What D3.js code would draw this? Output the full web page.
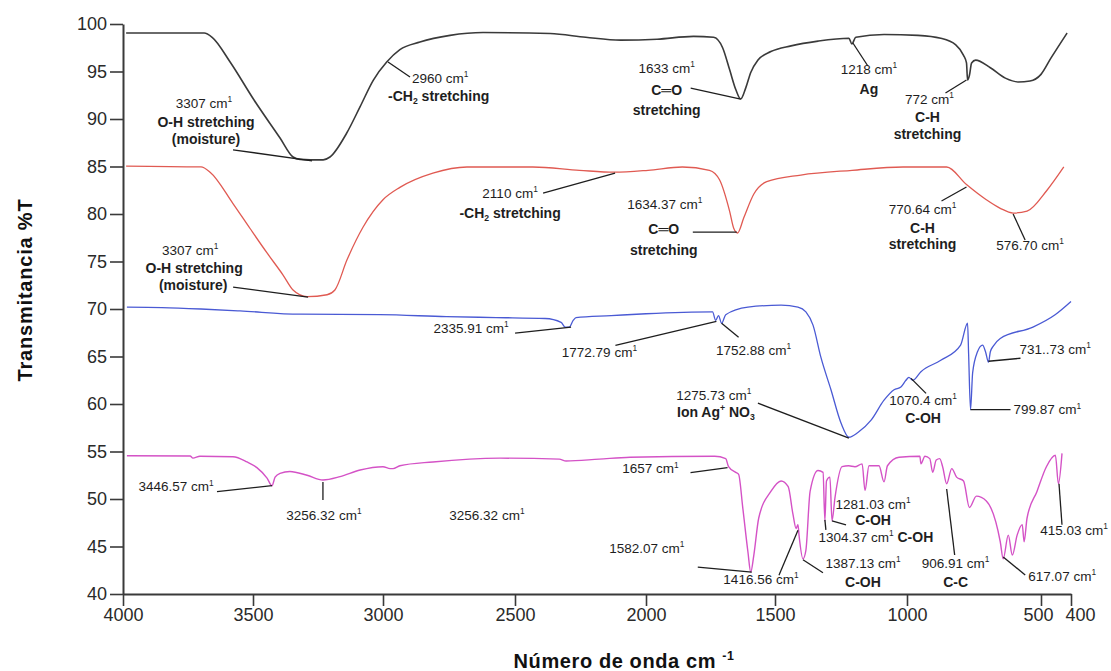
<!DOCTYPE html>
<html><head><meta charset="utf-8">
<script src="https://cdn.jsdelivr.net/npm/d3@7"></script>
<style>body{margin:0;background:#fff} svg{display:block;font-family:"Liberation Sans",Arial,sans-serif}</style>
</head><body><svg id="c" width="1111" height="671"></svg>
<script>
// ---------- data (wavenumber cm-1, %T) ----------
const xTickValues = [4000, 3500, 3000, 2500, 2000, 1500, 1000, 500, 400];
const yTickValues = [40, 45, 50, 55, 60, 65, 70, 75, 80, 85, 90, 95, 100];

const seriesBlack = [[3988,99.05],[3688,99.05],[3657,98.6],[3588,96.0],[3496,92.0],[3396,88.0],[3346,86.0],[3319,85.75],[3280,85.7],[3230,85.7],[3204,86.0],[3140,88.5],[3088,91.3],[3037,94.1],[2986,96.0],[2936,97.3],[2860,98.1],[2746,98.8],[2621,99.1],[2366,99.0],[2230,98.6],[2097,98.3],[1957,98.4],[1816,98.7],[1738,98.6],[1703,97.5],[1676,95.2],[1652,93.1],[1633,92.1],[1613,93.3],[1594,94.9],[1566,96.2],[1516,97.1],[1439,97.7],[1337,98.2],[1220,98.5],[1209,97.9],[1194,98.6],[1087,98.9],[959,98.8],[874,98.5],[818,97.8],[789,96.7],[778,95.9],[774,94.1],[767,94.6],[759,95.9],[744,96.2],[689,95.4],[633,94.3],[585,93.9],[541,94.0],[500,94.7],[467,96.4],[413,99.05]];

const seriesRed = [[3988,85.05],[3700,84.95],[3665,84.4],[3577,81.1],[3512,78.5],[3446,75.9],[3385,73.6],[3346,72.0],[3292,71.3],[3215,71.5],[3185,72.0],[3138,75.2],[3077,78.6],[3000,81.5],[2936,82.8],[2811,84.3],[2682,84.95],[2432,84.95],[2254,84.6],[2121,84.4],[1992,84.6],[1859,84.95],[1754,84.6],[1715,83.6],[1676,80.3],[1660,78.5],[1645,78.0],[1621,79.6],[1582,82.1],[1532,83.4],[1402,84.1],[1208,84.6],[1015,84.95],[852,84.95],[778,83.1],[704,81.5],[652,80.6],[604,80.1],[552,80.3],[480,82.5],[424,84.95]];

const seriesBlue = [[3985,70.2],[3850,70.15],[3700,70.0],[3550,69.8],[3320,69.45],[3012,69.4],[2760,69.2],[2571,69.1],[2385,69.0],[2324,68.6],[2309,68.1],[2293,68.1],[2278,68.8],[2267,69.1],[2133,69.3],[2000,69.5],[1742,69.7],[1730,68.8],[1719,69.3],[1707,68.5],[1691,69.4],[1605,70.2],[1477,70.4],[1413,70.2],[1383,69.7],[1356,68.3],[1326,64.9],[1288,61.5],[1250,58.0],[1220,56.5],[1186,57.0],[1136,58.3],[1087,60.4],[1049,61.5],[1023,61.8],[1004,62.5],[993,62.8],[978,62.5],[948,63.4],[874,64.6],[800,66.2],[774,68.5],[770,65.2],[763,59.4],[755,63.3],[737,65.5],[718,66.2],[707,65.5],[696,64.4],[689,65.5],[678,66.1],[652,66.9],[530,68.1],[453,69.4],[400,70.8]];

const seriesMagenta = [[3985,54.56],[3742,54.53],[3731,54.3],[3704,54.5],[3577,54.45],[3523,53.9],[3485,53.3],[3446,52.2],[3427,51.4],[3415,52.3],[3396,52.7],[3358,52.9],[3292,52.5],[3231,52.0],[3165,52.35],[3088,53.05],[3000,53.4],[2973,53.2],[2962,53.2],[2936,53.5],[2811,53.9],[2557,54.3],[2331,54.2],[2305,54.0],[2179,54.2],[2061,54.4],[1734,54.5],[1691,54.25],[1680,53.4],[1652,52.8],[1641,52.6],[1625,49.1],[1605,44.45],[1594,42.3],[1582,44.1],[1563,48.0],[1516,50.8],[1477,51.9],[1450,51.3],[1432,48.4],[1420,46.9],[1413,47.3],[1409,46.2],[1394,43.7],[1383,44.6],[1367,50.8],[1337,53.0],[1318,52.8],[1311,47.7],[1305,51.9],[1292,52.3],[1284,47.7],[1273,50.1],[1246,53.4],[1221,53.5],[1197,53.4],[1170,53.7],[1159,50.9],[1144,53.5],[1106,53.5],[1087,51.8],[1074,53.5],[1030,54.4],[952,54.5],[948,53.7],[933,54.5],[915,54.25],[904,52.8],[891,54.1],[878,54.25],[867,53.4],[852,51.6],[833,53.2],[815,52.3],[789,51.9],[767,49.1],[741,50.3],[704,49.8],[652,45.5],[641,43.7],[622,46.2],[607,44.1],[589,46.2],[570,47.3],[563,45.5],[552,48.0],[515,50.8],[482,53.4],[452,54.6],[442,51.6],[430,54.8]];

const seriesList = [
  {name: "black", data: seriesBlack, color: "#3a3a3a", w: 1.6},
  {name: "red", data: seriesRed, color: "#e05a52", w: 1.3},
  {name: "blue", data: seriesBlue, color: "#4a5ad4", w: 1.3},
  {name: "magenta", data: seriesMagenta, color: "#d452c6", w: 1.4}
];

// annotations: peak (wn, %T) + pointer/label offsets in px
const annotations = [
 {wn:3273,t:85.6,ln:[-79,-11],lab:[["3307 cm{^1}",-108,-58],["O-H stretching",-106,-39,1],["(moisture)",-106,-22,1]]},
 {wn:2981,t:96.0,ln:[22,15],lab:[["2960 cm{^1}",24,16,0,"start"],["-CH{_2} stretching",0,34,1,"start"]]},
 {wn:1633,t:92.1,ln:[-50,-11],lab:[["1633 cm{^1}",-74,-31],["C═O",-74,-9,1],["stretching",-74,11,1]]},
 {wn:1205,t:98.0,ln:[15,23],lab:[["1218 cm{^1}",16,26],["Ag",16,46,1]]},
 {wn:778,t:94.1,ln:[-21,13],lab:[["772 cm{^1}",-37,19],["C-H",-39,37,1],["stretching",-39,54,1]]},
 {wn:3288,t:71.26,ln:[-75,-10],lab:[["3307 cm{^1}",-118,-47],["O-H stretching",-114,-29,1],["(moisture)",-115,-12,1]]},
 {wn:2118,t:84.3,ln:[-72,20],lab:[["2110 cm{^1}",-105,20],["-CH{_2} stretching",-105,40,1]]},
 {wn:1648,t:78.1,ln:[-44,0],lab:[["1634.37 cm{^1}",-72,-28],["C═O",-73,-3,1],["stretching",-73,18,1]]},
 {wn:778,t:82.84,ln:[-25,14],lab:[["770.64 cm{^1}",-44,22],["C-H",-44,41,1],["stretching",-44,57,1]]},
 {wn:604,t:80.0,ln:[12,26],lab:[["576.70 cm{^1}",17,31]]},
 {wn:2286,t:68.1,ln:[-56,6],lab:[["2335.91 cm{^1}",-100,1]]},
 {wn:1727,t:68.7,ln:[-101,24],lab:[["1772.79 cm{^1}",-117,31]]},
 {wn:1707,t:68.5,ln:[17,14],lab:[["1752.88 cm{^1}",32,27]]},
 {wn:1220,t:56.4,ln:[-91,-35],lab:[["1275.73 cm{^1}",-135,-43],["Ion Ag{^+} NO{_3}",-133,-26,1]]},
 {wn:985,t:62.7,ln:[15,15],lab:[["1070.4 cm{^1}",12,22],["C-OH",12,40,1]]},
 {wn:763,t:59.4,ln:[40,0],lab:[["799.87 cm{^1}",43,0,0,"start"]]},
 {wn:696,t:64.5,ln:[32,-3],lab:[["731..73 cm{^1}",31,-12,0,"start"]]},
 {wn:3427,t:51.4,ln:[-55,6],lab:[["3446.57 cm{^1}",-96,1]]},
 {wn:3231,t:51.8,ln:[0,18],lab:[["3256.32 cm{^1}",1,33],["3256.32 cm{^1}",164,33]]},
 {wn:1684,t:53.3,ln:[-37,5],lab:[["1657 cm{^1}",-77,1]]},
 {wn:1590,t:42.3,ln:[-54,-5],lab:[["1582.07 cm{^1}",-105,-24]]},
 {wn:1413,t:46.7,ln:[-19,45],lab:[["1416.56 cm{^1}",-37,49]]},
 {wn:1394,t:43.6,ln:[20,13],lab:[["1387.13 cm{^1}",60,3],["C-OH",60,22,1]]},
 {wn:1284,t:47.7,ln:[14,4],lab:[["1281.03 cm{^1}",41,-17],["C-OH",41,-1,1]]},
 {wn:1311,t:47.8,ln:[1,10],lab:[["1304.37 cm{^1} {*C-OH}",51,17]]},
 {wn:852,t:51.05,ln:[8,66],lab:[["906.91 cm{^1}",9,74],["C-C",9,93,1]]},
 {wn:641,t:43.9,ln:[22,18],lab:[["617.07 cm{^1}",59,19]]},
 {wn:440,t:51.6,ln:[3,41],lab:[["415.03 cm{^1}",15,46]]}
];

// ---------- layout ----------
const W = 1111, H = 671;
const margin = {left: 123, right: 40, top: 24, bottom: 77};
const plotW = W - margin.left - margin.right;
const xFrac = [0, 0.13713, 0.27426, 0.41350, 0.55169, 0.68776, 0.82700, 0.96835, 1];
const tickLabelShift = {500: -3, 400: 9};

const svg = d3.select("#c");
const x = d3.scaleLinear().domain(xTickValues).range(xFrac.map(f => margin.left + f * plotW));
const y = d3.scaleLinear().domain([40, 100]).range([H - margin.bottom, margin.top]);

// axes
const gx = svg.append("g").attr("transform", `translate(0,${H - margin.bottom})`)
  .call(d3.axisBottom(x).tickValues(xTickValues).tickFormat(d3.format("d")).tickSize(12).tickPadding(2).tickSizeOuter(0));
gx.selectAll(".tick text").attr("dx", d => tickLabelShift[d] || 0);
const gy = svg.append("g").attr("transform", `translate(${margin.left},0)`)
  .call(d3.axisLeft(y).tickValues(yTickValues).tickSize(13).tickPadding(3).tickSizeOuter(0));
[gx, gy].forEach(g => {
  g.attr("font-size", 18).attr("font-family", '"Liberation Sans",Arial,sans-serif').attr("color", "#2a2a2a");
  g.select(".domain").attr("stroke", "#3a3a3a").attr("stroke-width", 2);
  g.selectAll(".tick line").attr("stroke", "#3a3a3a").attr("stroke-width", 1.6);
});

// spectra
const line = d3.line().x(d => x(d[0])).y(d => y(d[1])).curve(d3.curveMonotoneX);
svg.append("g").selectAll("path").data(seriesList).join("path")
  .attr("d", d => line(d.data)).attr("fill", "none")
  .attr("stroke", d => d.color).attr("stroke-width", d => d.w).attr("stroke-linejoin", "round");

// rich text helper: {^sup} {_sub} {*bold}
function rich(textSel, str, fs) {
  const re = /\{([\^_*])([^}]*)\}/g;
  let last = 0, m, cur = 0;
  const seg = (t, kind) => {
    if (!t) return;
    let target = 0, size = null, bold = false;
    if (kind === "^") { target = -0.42 * fs; size = 0.62 * fs; }
    else if (kind === "_") { target = 0.22 * fs; size = 0.62 * fs; }
    else if (kind === "*") { bold = true; }
    const ts = textSel.append("tspan").text(t).attr("dy", (target - cur).toFixed(2));
    if (size) ts.attr("font-size", size);
    if (bold) ts.attr("font-weight", "bold").attr("font-size", fs + 0.5);
    cur = target;
  };
  while ((m = re.exec(str))) {
    seg(str.slice(last, m.index), null);
    seg(m[2], m[1]);
    last = re.lastIndex;
  }
  seg(str.slice(last), null);
}

const ga = svg.append("g");
annotations.forEach(a => {
  const px = x(a.wn), py = y(a.t);
  if (a.ln) {
    ga.append("line").attr("x1", px + a.ln[0]).attr("y1", py + a.ln[1]).attr("x2", px).attr("y2", py)
      .attr("stroke", "#1e1e1e").attr("stroke-width", 1.3);
  }
  a.lab.forEach(([s, dx, dy, bold, anchor]) => {
    const fs = bold ? 14 : 13.5;
    const t = ga.append("text")
      .attr("x", px + dx).attr("y", py + dy + 0.35 * fs)
      .attr("text-anchor", anchor || "middle")
      .attr("font-size", fs).attr("font-weight", bold ? "bold" : "normal")
      .attr("fill", "#1e1e1e");
    rich(t, s, fs);
  });
});

// axis titles
svg.append("text").attr("transform", `translate(25,290) rotate(-90)`)
  .attr("text-anchor", "middle").attr("dy", "0.35em").attr("letter-spacing", 0.8)
  .attr("font-size", 20).attr("font-weight", "bold").attr("fill", "#111").text("Transmitancia %T");
const xt = svg.append("text").attr("x", 624).attr("y", 668).attr("text-anchor", "middle")
  .attr("letter-spacing", 0.6)
  .attr("font-size", 20).attr("font-weight", "bold").attr("fill", "#111");
rich(xt, "Número de onda cm {^-1}", 20);
</script></body></html>
